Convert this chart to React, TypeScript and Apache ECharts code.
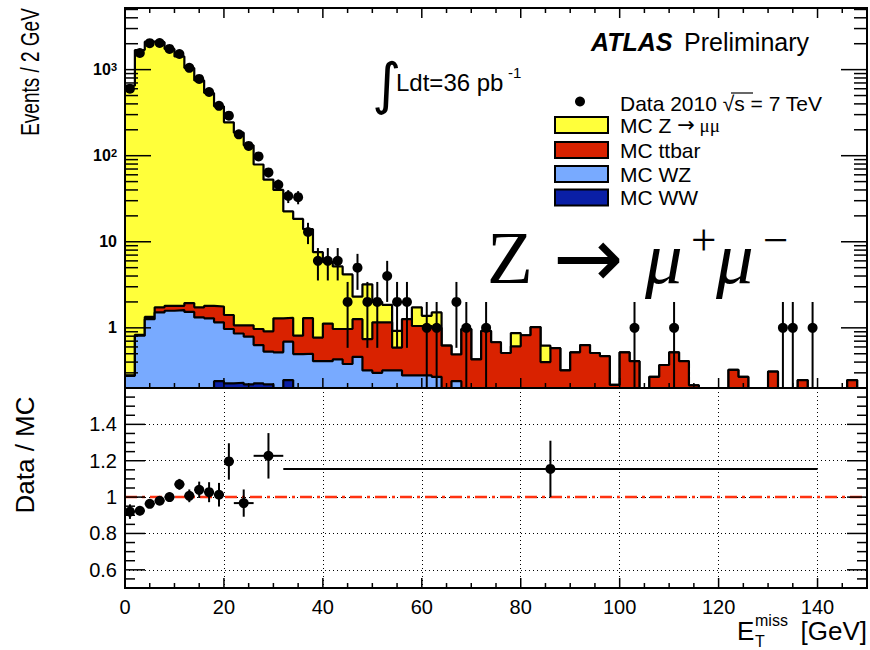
import React, { useEffect, useRef } from 'react';
import * as echarts from 'echarts';

const SANS = "'Liberation Sans', Arial, Helvetica, sans-serif";
const SERIF = "'Liberation Serif', 'Times New Roman', serif";

const binWidth = 2;
const nBins = 75;

// observed events per 2 GeV bin
const dataCounts = [
  600, 1560, 2030, 2040, 1740, 1520, 1050, 780, 550, 380,
  292, 177, 130, 98, 64, 46, 34, 33, 13, 6,
  6, 6, 2, 5, 2, 2, 4, 2, 2, 0,
  1, 1, 0, 2, 1, 0, 1, 0, 0, 0,
  0, 0, 0, 0, 0, 0, 0, 0, 0, 0,
  0, 1, 0, 0, 0, 1, 0, 0, 0, 0,
  0, 0, 0, 0, 0, 0, 1, 1, 0, 1,
  0, 0, 0, 0, 0,
];

const mcZmumu = [
  650, 1690, 2110, 2080, 1740, 1420, 1043, 748, 533, 373,
  243, 184, 131, 78, 51.7, 38.7, 21.2, 17.6, 12.7, 6.8,
  4.7, 4.2, 3.2, 1.04, 2.46, 0.84, 0.69, 0.33, 0, 0.68,
  0.33, 0.51, 0, 0, 0, 0, 0, 0, 0, 0.26,
  0, 0, 0.22, 0, 0, 0, 0, 0, 0, 0,
  0, 0, 0, 0, 0, 0, 0, 0, 0, 0,
  0, 0, 0, 0, 0, 0, 0, 0, 0, 0,
  0, 0, 0, 0, 0,
];

const mcTtbar = [
  0.003, 0.02, 0.08, 0.22, 0.22, 0.19, 0.41, 0.41, 0.51, 0.61,
  0.44, 0.21, 0.28, 0.34, 0.38, 0.77, 0.62, 0.315, 0.8, 0.36,
  0.71, 0.54, 0.59, 0.8, 0.42, 0.86, 0.84, 0.27, 0.98, 0.77,
  0.77, 0.73, 0.42, 0.25, 0.97, 0.43, 0.92, 0.68, 0.51, 0.61,
  0.82, 1.02, 0.4, 0.58, 0.32, 0.52, 0.63, 0.51, 0.47, 0.217,
  0.52, 0.41, 0, 0.27, 0.37, 0.52, 0.41, 0.215, 0, 0,
  0, 0.325, 0.27, 0, 0, 0.31, 0, 0, 0.247, 0,
  0, 0, 0, 0.247, 0,
];

const mcWZ = [
  0.277, 0.81, 1.26, 1.51, 1.58, 1.61, 1.53, 1.32, 1.29, 0.92,
  0.744, 0.63, 0.57, 0.404, 0.31, 0.52, 0.443, 0.495, 0.5, 0.41,
  0.41, 0.43, 0.38, 0.46, 0.32, 0.3, 0.32, 0.32, 0.28, 0.28,
  0.28, 0.27, 0.2, 0.24, 0, 0, 0, 0, 0, 0,
  0, 0, 0, 0, 0, 0, 0, 0, 0, 0,
  0, 0, 0, 0, 0, 0, 0, 0, 0, 0,
  0, 0, 0, 0, 0, 0, 0, 0, 0, 0,
  0, 0, 0, 0, 0,
];

const mcWW = [
  0, 0, 0, 0, 0, 0, 0, 0, 0, 0.24,
  0.226, 0.23, 0.22, 0.226, 0.22, 0, 0.247, 0, 0, 0,
  0, 0, 0, 0, 0, 0, 0, 0, 0, 0,
  0, 0, 0, 0, 0, 0, 0, 0, 0, 0,
  0, 0, 0, 0, 0, 0, 0, 0, 0, 0,
  0, 0, 0, 0, 0, 0, 0, 0, 0, 0,
  0, 0, 0, 0, 0, 0, 0, 0, 0, 0,
  0, 0, 0, 0, 0,
];

// Data / MC ratio (variable bins)
const ratioCenter = [1, 3, 5, 7, 9, 11, 13, 15, 17, 19, 21, 24, 29, 86];
const ratioHalfWidth = [1, 1, 1, 1, 1, 1, 1, 1, 1, 1, 1, 2, 3, 54];
const ratioValue = [0.92, 0.925, 0.963, 0.98, 1.0, 1.07, 1.007, 1.04, 1.027, 1.013, 1.196, 0.967, 1.227, 1.155];
const ratioError = [0.04, 0.025, 0.02, 0.02, 0.025, 0.03, 0.035, 0.045, 0.055, 0.065, 0.1, 0.075, 0.125, 0.155];

const xMin = 0;
const xMax = 150;
const yTopMin = 0.2;
const yTopMax = 5200;
const yBotMin = 0.5;
const yBotMax = 1.6;

const COL_Z = '#ffff3a';
const COL_TT = '#d92200';
const COL_WZ = '#78aaff';
const COL_WW = '#0a1fa6';

const edges = Array.from({ length: nBins + 1 }, (_, i) => i * binWidth);
const tiny = 1e-4;

function addArrays(...arrs: number[][]) {
  return arrs[0].map((_, i) => arrs.reduce((s, a) => s + a[i], 0));
}
const cumWW = mcWW;
const cumWZ = addArrays(mcWW, mcWZ);
const cumTT = addArrays(mcWW, mcWZ, mcTtbar);
const cumAll = addArrays(mcWW, mcWZ, mcTtbar, mcZmumu);

function stepData(vals: number[]) {
  const pts = vals.map((v, i) => [edges[i], v > 0 ? v : tiny]);
  const last = vals[vals.length - 1];
  pts.push([edges[nBins], last > 0 ? last : tiny]);
  return pts;
}

function histSeries(name: string, vals: number[], color: string, z: number) {
  return {
    type: 'line',
    name,
    xAxisIndex: 0,
    yAxisIndex: 0,
    data: stepData(vals),
    step: 'end',
    symbol: 'none',
    showSymbol: false,
    clip: true,
    silent: true,
    z,
    lineStyle: { color: '#000', width: 2.2 },
    areaStyle: { color, opacity: 1, origin: 'start' },
  };
}

function line(x1: number, y1: number, x2: number, y2: number, w = 1.5) {
  return { type: 'line', shape: { x1, y1, x2, y2 }, style: { stroke: '#000', lineWidth: w } };
}

function topFrame(params: any, api: any) {
  const children: any[] = [];
  const p0 = api.coord([xMin, yTopMin]);
  const p1 = api.coord([xMax, yTopMax]);
  const xl = p0[0], yb = p0[1], xr = p1[0], yt = p1[1];
  for (let v = 5; v < xMax; v += 5) {
    const px = api.coord([v, 1])[0];
    const len = v % 20 === 0 ? 10 : 5;
    children.push(line(px, yb, px, yb - len));
    children.push(line(px, yt, px, yt + len));
  }
  for (let d = -1; d <= 3; d++) {
    for (let k = 1; k <= 9; k++) {
      const v = k * Math.pow(10, d);
      if (v <= yTopMin || v >= yTopMax) continue;
      const py = api.coord([1, v])[1];
      const len = k === 1 ? 26 : 13;
      children.push(line(xl, py, xl + len, py));
      children.push(line(xr, py, xr - len, py));
    }
  }
  children.push({ type: 'rect', shape: { x: xl, y: yt, width: xr - xl, height: yb - yt }, style: { fill: 'none', stroke: '#000', lineWidth: 2 } });
  return { type: 'group', children };
}

function bottomFrame(params: any, api: any) {
  const children: any[] = [];
  const p0 = api.coord([xMin, yBotMin]);
  const p1 = api.coord([xMax, yBotMax]);
  const xl = p0[0], yb = p0[1], xr = p1[0], yt = p1[1];
  for (let v = 5; v < xMax; v += 5) {
    const px = api.coord([v, 1])[0];
    const len = v % 20 === 0 ? 10 : 5;
    children.push(line(px, yb, px, yb - len));
  }
  for (let i = 11; i <= 31; i++) {
    const v = i * 0.05;
    const py = api.coord([1, v])[1];
    const len = i % 4 === 0 ? 20 : 10;
    children.push(line(xl, py, xl + len, py));
    children.push(line(xr, py, xr - len, py));
  }
  children.push({ type: 'rect', shape: { x: xl, y: yt, width: xr - xl, height: yb - yt }, style: { fill: 'none', stroke: '#000', lineWidth: 2 } });
  return { type: 'group', children };
}

function dataPointRender(params: any, api: any) {
  const x = api.value(0);
  const n = api.value(1);
  const e = Math.sqrt(n);
  const c = api.coord([x, n]);
  const t = api.coord([x, n + e]);
  const b = api.coord([x, Math.max(n - e, 1e-3)]);
  return {
    type: 'group',
    children: [
      line(c[0], t[1], c[0], b[1], 2),
      { type: 'circle', shape: { cx: c[0], cy: c[1], r: 5 }, style: { fill: '#000' } },
    ],
  };
}

function ratioRender(params: any, api: any) {
  const x = api.value(0);
  const hw = api.value(1);
  const r = api.value(2);
  const e = api.value(3);
  const c = api.coord([x, r]);
  const l = api.coord([x - hw, r]);
  const h = api.coord([x + hw, r]);
  const t = api.coord([x, r + e]);
  const b = api.coord([x, r - e]);
  return {
    type: 'group',
    children: [
      line(l[0], c[1], h[0], c[1], 2),
      line(c[0], t[1], c[0], b[1], 2),
      { type: 'circle', shape: { cx: c[0], cy: c[1], r: 5 }, style: { fill: '#000' } },
    ],
  };
}

function txt(text: string, x: number, y: number, size: number, opts: any = {}) {
  return {
    type: 'text',
    x,
    y,
    z: 100,
    rotation: opts.rotation || 0,
    scaleX: opts.scaleX || 1,
    style: {
      text,
      fontSize: size,
      fontFamily: opts.family || SANS,
      fontWeight: opts.weight || 'normal',
      fontStyle: opts.style || 'normal',
      fill: '#000',
      align: opts.align || 'left',
      verticalAlign: 'middle',
      rich: opts.rich,
    },
  };
}

export default function App() {
  const ref = useRef<HTMLDivElement>(null);
  useEffect(() => {
    if (!ref.current) return;
    const chart = echarts.init(ref.current, null, { renderer: 'svg' });
    const dataPoints = dataCounts
      .map((n, i) => [edges[i] + binWidth / 2, n])
      .filter((p) => p[1] > 0);
    const ratioPoints = ratioCenter.map((c, i) => [c, ratioHalfWidth[i], ratioValue[i], ratioError[i]]);

    const option: any = {
      animation: false,
      backgroundColor: '#fff',
      grid: [
        { left: 125, top: 8, width: 742, height: 380, show: false },
        { left: 125, top: 388, width: 742, height: 200, show: false },
      ],
      xAxis: [
        { type: 'value', gridIndex: 0, min: xMin, max: xMax, show: false },
        {
          type: 'value', gridIndex: 1, min: xMin, max: xMax, interval: 20,
          axisLine: { show: false }, axisTick: { show: false },
          axisLabel: { fontSize: 20, fontFamily: SANS, color: '#000', margin: 9, showMaxLabel: false },
          splitLine: { show: true, lineStyle: { color: '#000', width: 1, type: [1, 3] } },
        },
      ],
      yAxis: [
        {
          type: 'log', logBase: 10, gridIndex: 0, min: yTopMin, max: yTopMax,
          axisLine: { show: false }, axisTick: { show: false }, splitLine: { show: false },
          axisLabel: {
            margin: 8, showMinLabel: false, showMaxLabel: false,
            formatter: (v: number) => {
              const e = Math.round(Math.log10(v));
              if (Math.abs(v - Math.pow(10, e)) > 1e-6 * v) return '';
              if (e === 0) return '{b|1}';
              if (e === 1) return '{b|10}';
              return '{b|10}{s|' + e + '}';
            },
            rich: {
              b: { fontSize: 16, fontWeight: 'bold', fontFamily: SANS, color: '#000' },
              s: { fontSize: 11, fontWeight: 'bold', fontFamily: SANS, color: '#000', verticalAlign: 'top' },
            },
          },
        },
        {
          type: 'value', gridIndex: 1, min: yBotMin, max: yBotMax,
          axisLine: { show: false }, axisTick: { show: false },
          axisLabel: { fontSize: 20, fontFamily: SANS, color: '#000', margin: 8, showMinLabel: false, showMaxLabel: false },
          splitLine: { show: true, lineStyle: { color: '#000', width: 1, type: [1, 3] } },
        },
      ],
      series: [
        histSeries('MC Z → μμ', cumAll, COL_Z, 2),
        histSeries('MC ttbar', cumTT, COL_TT, 3),
        histSeries('MC WZ', cumWZ, COL_WZ, 4),
        histSeries('MC WW', cumWW, COL_WW, 5),
        {
          type: 'custom', name: 'Data', xAxisIndex: 0, yAxisIndex: 0, z: 10, clip: true, silent: true,
          renderItem: dataPointRender, data: dataPoints,
        },
        {
          type: 'custom', name: 'frameTop', xAxisIndex: 0, yAxisIndex: 0, z: 20, clip: false, silent: true,
          renderItem: topFrame, data: [[1, 1]],
        },
        {
          type: 'line', name: 'unity', xAxisIndex: 1, yAxisIndex: 1, z: 3, symbol: 'none', silent: true,
          data: [[xMin, 1], [xMax, 1]],
          lineStyle: { color: '#ff3311', width: 2.5, type: [12, 5, 3, 5] },
        },
        {
          type: 'custom', name: 'Ratio', xAxisIndex: 1, yAxisIndex: 1, z: 10, clip: true, silent: true,
          renderItem: ratioRender, data: ratioPoints,
        },
        {
          type: 'custom', name: 'frameBottom', xAxisIndex: 1, yAxisIndex: 1, z: 20, clip: false, silent: true,
          renderItem: bottomFrame, data: [[1, 1]],
        },
      ],
      graphic: [
        txt('Events / 2 GeV', 30, 72, 26, { rotation: Math.PI / 2, align: 'center', scaleX: 0.73 }),
        txt('Data / MC', 25, 455, 26, { rotation: Math.PI / 2, align: 'center' }),
        txt('E', 737, 631, 26),
        txt('miss', 755, 620, 16),
        txt('T', 755, 641, 16),
        txt('[GeV]', 867, 631, 26, { align: 'right' }),
        txt('ATLAS', 591, 42, 25, { weight: 'bold', style: 'italic' }),
        txt('Preliminary', 684, 42, 25),
        txt('∫', 372, 83, 56, { family: "'DejaVu Sans', sans-serif" }),
        txt('Ldt=36 pb', 396, 82, 24),
        txt('-1', 508, 72, 15),
        { type: 'circle', z: 100, shape: { cx: 580, cy: 101.5, r: 5 }, style: { fill: '#000' } },
        txt('Data 2010 √s = 7 TeV', 620, 103, 21),
        { type: 'line', z: 100, shape: { x1: 731, y1: 93, x2: 753, y2: 93 }, style: { stroke: '#000', lineWidth: 1.2 } },
        { type: 'rect', z: 100, shape: { x: 555, y: 117, width: 53, height: 16 }, style: { fill: COL_Z, stroke: '#000', lineWidth: 2 } },
        { type: 'rect', z: 100, shape: { x: 555, y: 142, width: 53, height: 16 }, style: { fill: COL_TT, stroke: '#000', lineWidth: 2 } },
        { type: 'rect', z: 100, shape: { x: 555, y: 166, width: 53, height: 16 }, style: { fill: COL_WZ, stroke: '#000', lineWidth: 2 } },
        { type: 'rect', z: 100, shape: { x: 555, y: 189.5, width: 53, height: 16 }, style: { fill: COL_WW, stroke: '#000', lineWidth: 2 } },
        txt('{a|MC Z }{r|→}{m| μμ}', 620, 125, 21, {
          rich: {
            a: { fontSize: 21, fontFamily: SANS, fill: '#000' },
            r: { fontSize: 21, fontFamily: "'DejaVu Sans', sans-serif", fill: '#000' },
            m: { fontSize: 19, fontFamily: SERIF, fill: '#000' },
          },
        }),
        txt('MC ttbar', 620, 150, 21),
        txt('MC WZ', 620, 174, 21),
        txt('MC WW', 620, 197, 21),
        txt('Z', 487, 257, 75, { family: SERIF }),
        txt('→', 553, 258, 84, { family: "'DejaVu Sans', sans-serif" }),
        txt('μ', 645, 257, 75, { family: SERIF, style: 'italic' }),
        txt('+', 691, 240, 45, { family: SERIF }),
        txt('μ', 716, 257, 75, { family: SERIF, style: 'italic' }),
        txt('−', 763, 240, 45, { family: SERIF }),
      ],
    };
    chart.setOption(option);
    return () => chart.dispose();
  }, []);
  return <div ref={ref} style={{ position: 'fixed', left: 0, top: 0, width: 870, height: 650, background: '#fff' }} />;
}
